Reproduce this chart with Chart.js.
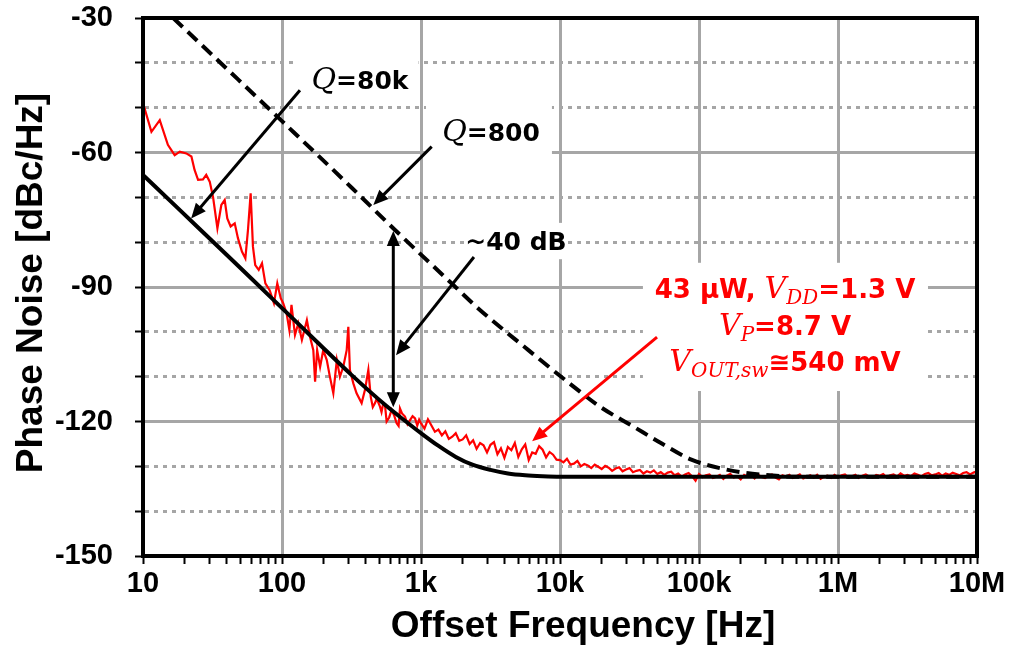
<!DOCTYPE html>
<html>
<head>
<meta charset="utf-8">
<script src="https://cdn.jsdelivr.net/npm/chart.js@4"></script>
<style>
  html, body { margin: 0; padding: 0; background: #fff; }
  canvas { display: block; }
</style>
</head>
<body>
<canvas id="pnChart" width="1010" height="647"></canvas>
<script>
// ==============================
// Phase noise vs offset frequency
// measured (red) + Leeson fits for Q=80k (solid) and Q=800 (dashed)
// ==============================

// ---------- axes ----------
const xDecades      = [10, 100, 1e3, 1e4, 1e5, 1e6, 1e7];
const xDecadeLabels = ["10", "100", "1k", "10k", "100k", "1M", "10M"];
const yLabelledTicks = [-150, -120, -90, -60, -30];

// ---------- measured spectrum ----------
const measFreq = [
  // 10 Hz .. 1 kHz
  10, 11.5, 13.2, 15.1, 16.9, 18.4, 20.5, 22.3, 23.5, 24.9,
  27.0, 28.5, 30.2, 31.9, 34.3, 36.6, 38.7, 40.4, 42.7, 45.7,
  48.2, 51.5, 54.5, 56.9, 59.5, 61.8, 64.2, 68.0, 71.8, 75.9,
  81.5, 87.5, 92.5, 97.9, 102, 108, 113, 117, 124, 131,
  139, 151, 159, 168, 173, 179, 188, 198, 210, 221,
  234, 248, 261, 276, 292, 300, 308, 326, 344, 374,
  395, 418, 435, 450, 467, 480, 507, 520, 536, 550,
  566, 590, 615, 640, 668, 690, 706, 730, 767, 800,
  834, 870, 906, 940, 970,
  // 1 kHz .. 10 kHz
  1000, 1059, 1122, 1189, 1259, 1334, 1413, 1496, 1585, 1679,
  1778, 1884, 1995, 2113, 2239, 2371, 2512, 2661, 2818, 2985,
  3162, 3350, 3548, 3758, 3981, 4217, 4467, 4732, 5012, 5309,
  5623, 5957, 6310, 6683, 7079, 7499, 7943, 8414, 8913, 9441,
  // 10 kHz .. 100 kHz
  1.000e4, 1.059e4, 1.122e4, 1.189e4, 1.259e4, 1.334e4, 1.413e4, 1.496e4, 1.585e4, 1.679e4,
  1.778e4, 1.884e4, 1.995e4, 2.113e4, 2.239e4, 2.371e4, 2.512e4, 2.661e4, 2.818e4, 2.985e4,
  3.162e4, 3.350e4, 3.548e4, 3.758e4, 3.981e4, 4.217e4, 4.467e4, 4.732e4, 5.012e4, 5.309e4,
  5.623e4, 5.957e4, 6.310e4, 6.683e4, 7.079e4, 7.499e4, 7.943e4, 8.414e4, 8.913e4, 9.441e4,
  // 100 kHz .. 1 MHz
  1.000e5, 1.059e5, 1.122e5, 1.189e5, 1.259e5, 1.334e5, 1.413e5, 1.496e5, 1.585e5, 1.679e5,
  1.778e5, 1.884e5, 1.995e5, 2.113e5, 2.239e5, 2.371e5, 2.512e5, 2.661e5, 2.818e5, 2.985e5,
  3.162e5, 3.350e5, 3.548e5, 3.758e5, 3.981e5, 4.217e5, 4.467e5, 4.732e5, 5.012e5, 5.309e5,
  5.623e5, 5.957e5, 6.310e5, 6.683e5, 7.079e5, 7.499e5, 7.943e5, 8.414e5, 8.913e5, 9.441e5,
  // 1 MHz .. 10 MHz
  1.000e6, 1.059e6, 1.122e6, 1.189e6, 1.259e6, 1.334e6, 1.413e6, 1.496e6, 1.585e6, 1.679e6,
  1.778e6, 1.884e6, 1.995e6, 2.113e6, 2.239e6, 2.371e6, 2.512e6, 2.661e6, 2.818e6, 2.985e6,
  3.162e6, 3.350e6, 3.548e6, 3.758e6, 3.981e6, 4.217e6, 4.467e6, 4.732e6, 5.012e6, 5.309e6,
  5.623e6, 5.957e6, 6.310e6, 6.683e6, 7.079e6, 7.499e6, 7.943e6, 8.414e6, 8.913e6, 9.441e6,
  1.000e7
];
const measNoise = [
  // 10 Hz .. 1 kHz
  -49.0, -55.4, -52.8, -58.3, -60.6, -59.8, -60.2, -60.9, -63.9, -66.1,
  -66.0, -65.0, -66.5, -69.9, -76.9, -71.7, -70.6, -74.7, -76.5, -75.8,
  -79.1, -82.1, -83.6, -77.3, -69.1, -81.0, -85.1, -86.2, -84.7, -89.2,
  -90.7, -93.6, -89.2, -92.5, -93.6, -95.9, -99.6, -94.0, -100.7, -98.1,
  -101.8, -97.4, -101.1, -104.1, -111.1, -104.1, -107.8, -104.1, -106.3, -110.0,
  -113.7, -106.3, -110.0, -107.8, -104.1, -98.9, -108.5, -111.5, -113.7, -115.9,
  -113.0, -108.5, -114.5, -116.8, -115.9, -114.9, -116.7, -117.9, -115.9, -116.2,
  -120.0, -119.1, -117.4, -118.6, -120.4, -121.0, -117.1, -118.2, -118.9, -120.6,
  -119.7, -118.8, -119.3, -120.9, -119.6,
  // 1 kHz .. 10 kHz
  -120.4, -121.6, -119.5, -120.9, -122.3, -121.8, -123.1, -122.2, -123.9, -123.4,
  -122.6, -124.3, -124.0, -123.1, -125.0, -124.2, -126.1, -124.8, -125.3, -126.9,
  -125.2, -124.6, -127.3, -126.0, -128.1, -125.7, -126.4, -124.8, -127.9, -126.2,
  -125.1, -128.6, -126.9, -127.2, -125.5, -126.3, -128.0, -126.8, -127.4, -128.5,
  // 10 kHz .. 100 kHz
  -128.6, -129.1, -128.3, -129.6, -129.4, -128.8, -130.0, -129.5, -129.8, -130.4,
  -129.6, -130.1, -130.6, -129.9, -130.3, -131.0, -130.5, -130.2, -131.1, -130.7,
  -130.4, -131.3, -131.0, -130.8, -131.6, -131.1, -131.4, -130.9, -131.7, -131.3,
  -131.9, -131.4, -131.2, -132.0, -131.6, -132.3, -131.8, -131.5, -132.2, -133.2,
  // 100 kHz .. 1 MHz
  -131.7, -132.4, -132.0, -131.8, -132.6, -132.3, -131.9, -132.8, -132.1, -131.7,
  -132.5, -132.2, -132.9, -131.9, -132.3, -132.0, -132.7, -131.8, -132.4, -132.6,
  -132.1, -131.8, -132.5, -132.9, -132.0, -132.3, -131.9, -132.6, -132.2, -131.8,
  -132.7, -132.4, -132.0, -132.5, -131.9, -132.8, -132.3, -132.1, -132.6, -131.9,
  // 1 MHz .. 10 MHz
  -132.4, -132.0, -131.8, -132.5, -132.2, -131.9, -132.6, -132.1, -131.8, -132.3,
  -132.5, -131.9, -132.1, -131.7, -132.4, -132.0, -131.8, -132.3, -131.6, -132.1,
  -131.9, -132.2, -131.6, -131.9, -132.2, -131.7, -131.5, -132.0, -131.8, -131.5,
  -132.1, -131.6, -131.9, -131.4, -131.7, -132.0, -131.5, -131.3, -131.8, -131.4,
  -131.1
];

// ---------- Leeson model, Q = 80k (solid) ----------
const q80kFreq  = [10, 17.8, 31.6, 56.2, 100, 178, 316, 562, 750, 1000,
                   1330, 1780, 2370, 3160, 4220, 5620, 7500, 10000, 1e5, 1e6, 1e7];
const q80kNoise = [-65.0, -72.4, -79.8, -87.2, -94.7, -102.2, -109.6, -116.5, -119.6, -122.6,
                   -125.4, -127.9, -129.7, -130.8, -131.6, -132.0, -132.2, -132.3, -132.3, -132.3, -132.3];

// ---------- Leeson model, Q = 800 (dashed) ----------
const q800Freq  = [16.5, 31.6, 100, 316, 631, 1585, 2630, 5620, 11700, 19400,
                   33600, 53200, 88100, 156000, 292000, 500000, 1e7];
const q800Noise = [-30.0, -38.3, -53.0, -67.8, -76.9, -88.6, -95.0, -103.5, -111.5, -116.7,
                   -121.1, -124.8, -128.5, -130.7, -131.9, -132.3, -132.3];

// ---------- annotations (anchored in data coords: [Hz, dBc/Hz]) ----------
const RED = "#ff0000";
const F_BOLD = 'bold 25px "DejaVu Sans"';
const F_BOLD_R = 'bold 26px "DejaVu Sans"';
const F_ITAL = 'italic 30px "DejaVu Serif"';
const F_SUB  = 'italic 20px "DejaVu Serif"';

// white boxes that mask the grid behind the labels: [f1, f2, dbTop, dbBottom]
const labelBoxes = [
  [125, 960, -38.5, -48.8],
  [1086, 8750, -49.4, -61.0],
  [2040, 11000, -75.7, -83.8],
  [39500, 4.44e6, -84.6, -113.2]
];

const labels = [
  { at: [364, -43.8],    color: "#000", runs: [{ t: "Q", f: F_ITAL }, { t: "=80k", f: F_BOLD }] },
  { at: [3190, -55.4],   color: "#000", runs: [{ t: "Q", f: F_ITAL }, { t: "=800", f: F_BOLD }] },
  { at: [4820, -79.7],   color: "#000", runs: [{ t: "~40 dB", f: F_BOLD }] },
  { at: [416000, -90.4], color: RED, runs: [{ t: "43 \u00b5W, ", f: F_BOLD_R }, { t: "V", f: F_ITAL },
                                            { t: "DD", f: F_SUB, dy: 6 }, { t: "=1.3 V", f: F_BOLD_R }] },
  { at: [416000, -98.7], color: RED, runs: [{ t: "V", f: F_ITAL }, { t: "P", f: F_SUB, dy: 6 },
                                            { t: "=8.7 V", f: F_BOLD_R }] },
  { at: [416000, -106.7], color: RED, runs: [{ t: "V", f: F_ITAL }, { t: "OUT,sw", f: F_SUB, dy: 6 },
                                             { t: "\u2245540 mV", f: F_BOLD_R }] }
];

// arrows: from -> to (head at "to"), both = head at each end
const arrows = [
  { from: [134.6, -46.1], to: [22.2, -74.7],  color: "#000" },
  { from: [1194, -58.7],  to: [454, -71.7],   color: "#000" },
  { from: [632, -77.5],   to: [632, -116.8],  color: "#000", both: true },
  { from: [2404, -83.3],  to: [661, -105.2],  color: "#000" },
  { from: [49900, -101.2], to: [6300, -124.4], color: RED }
];

// ---------- helpers ----------
const zip = (xs, ys) => xs.map((x, i) => ({ x, y: ys[i] }));

function drawHead(ctx, x, y, ang) {
  const len = 15, half = 6.5;
  ctx.beginPath();
  ctx.moveTo(x, y);
  ctx.lineTo(x - len * Math.cos(ang) + half * Math.sin(ang), y - len * Math.sin(ang) - half * Math.cos(ang));
  ctx.lineTo(x - len * Math.cos(ang) - half * Math.sin(ang), y - len * Math.sin(ang) + half * Math.cos(ang));
  ctx.closePath();
  ctx.fill();
}

function drawArrow(ctx, x1, y1, x2, y2, color, both) {
  const ang = Math.atan2(y2 - y1, x2 - x1);
  const cut = 10;
  ctx.save();
  ctx.strokeStyle = color; ctx.fillStyle = color; ctx.lineWidth = 3;
  ctx.beginPath();
  ctx.moveTo(both ? x1 + cut * Math.cos(ang) : x1, both ? y1 + cut * Math.sin(ang) : y1);
  ctx.lineTo(x2 - cut * Math.cos(ang), y2 - cut * Math.sin(ang));
  ctx.stroke();
  drawHead(ctx, x2, y2, ang);
  if (both) drawHead(ctx, x1, y1, ang + Math.PI);
  ctx.restore();
}

function drawRuns(ctx, runs, cx, baseline, color) {
  let w = 0;
  runs.forEach(r => { ctx.font = r.f; r.w = ctx.measureText(r.t).width; w += r.w; });
  let x = cx - w / 2;
  ctx.fillStyle = color;
  ctx.textAlign = "left";
  ctx.textBaseline = "alphabetic";
  runs.forEach(r => { ctx.font = r.f; ctx.fillText(r.t, x, baseline + (r.dy || 0)); x += r.w; });
}

// ---------- plugin: boxes, frame, arrows, labels, axis titles ----------
const annotate = {
  id: "annotate",
  beforeDatasetsDraw(chart) {
    const { ctx, scales: { x, y } } = chart;
    ctx.save();
    ctx.fillStyle = "#fff";
    labelBoxes.forEach(([f1, f2, d1, d2]) => {
      const px1 = x.getPixelForValue(f1), px2 = x.getPixelForValue(f2);
      const py1 = y.getPixelForValue(d1), py2 = y.getPixelForValue(d2);
      ctx.fillRect(px1, py1, px2 - px1, py2 - py1);
    });
    ctx.restore();
  },
  afterDatasetsDraw(chart) {
    const { ctx, chartArea: a, scales: { x, y } } = chart;
    ctx.save();
    // full black frame
    ctx.strokeStyle = "#000";
    ctx.lineWidth = 4;
    ctx.strokeRect(a.left, a.top, a.right - a.left, a.bottom - a.top);

    arrows.forEach(ar => {
      drawArrow(ctx,
        x.getPixelForValue(ar.from[0]), y.getPixelForValue(ar.from[1]),
        x.getPixelForValue(ar.to[0]),   y.getPixelForValue(ar.to[1]),
        ar.color, ar.both);
    });

    labels.forEach(l => {
      drawRuns(ctx, l.runs, x.getPixelForValue(l.at[0]), y.getPixelForValue(l.at[1]) + 9, l.color);
    });

    // axis titles
    ctx.fillStyle = "#000";
    ctx.font = 'bold 37px "Liberation Sans"';
    ctx.textAlign = "center";
    ctx.textBaseline = "alphabetic";
    ctx.fillText("Offset Frequency [Hz]", (a.left + a.right) / 2 + 23, a.bottom + 81);
    ctx.translate(a.left - 101, (a.top + a.bottom) / 2 - 4);
    ctx.rotate(-Math.PI / 2);
    ctx.fillText("Phase Noise [dBc/Hz]", 0, 0);
    ctx.restore();
  }
};

// ---------- chart ----------
const ctx = document.getElementById("pnChart").getContext("2d");
const GRID = "#a6a6a6";
const tickFont = { family: "Liberation Sans", size: 29, weight: "bold" };

new Chart(ctx, {
  type: "line",
  data: {
    datasets: [
      { label: "Measured", data: zip(measFreq, measNoise), borderColor: RED, borderWidth: 2.2,
        pointRadius: 0, tension: 0, order: 3 },
      { label: "Q=800", data: zip(q800Freq, q800Noise), borderColor: "#000", borderWidth: 4,
        borderDash: [13, 7], pointRadius: 0, cubicInterpolationMode: "monotone", order: 2 },
      { label: "Q=80k", data: zip(q80kFreq, q80kNoise), borderColor: "#000", borderWidth: 4,
        pointRadius: 0, cubicInterpolationMode: "monotone", order: 1 }
    ]
  },
  options: {
    responsive: false,
    animation: false,
    devicePixelRatio: 1,
    layout: { padding: { top: 18, right: 33, bottom: 0, left: 0 } },
    plugins: { legend: { display: false }, tooltip: { enabled: false } },
    scales: {
      x: {
        type: "logarithmic",
        min: 10, max: 1e7,
        afterBuildTicks: (scale) => {
          const t = [];
          xDecades.slice(0, -1).forEach(d => { for (let m = 1; m <= 9; m++) t.push(d * m); });
          t.push(xDecades[xDecades.length - 1]);
          scale.ticks = t.map(v => ({ value: v, major: xDecades.includes(v) }));
        },
        afterFit: (scale) => {
          scale.height = 91;
          scale.paddingLeft = 0; scale.paddingRight = 0;
        },
        ticks: {
          autoSkip: false, maxRotation: 0, minRotation: 0, padding: 3,
          color: "#000", font: tickFont,
          callback: (v) => { const i = xDecades.indexOf(v); return i >= 0 ? xDecadeLabels[i] : ""; }
        },
        grid: {
          color: (c) => (c.tick && xDecades.includes(c.tick.value)) ? GRID : "rgba(0,0,0,0)",
          lineWidth: 3,
          tickColor: "#000", tickLength: 8, tickWidth: 2
        },
        border: { display: true, color: "#000", width: 4 }
      },
      y: {
        min: -150, max: -30,
        afterFit: (scale) => {
          scale.width = 143;
          scale.paddingTop = 0; scale.paddingBottom = 0;
        },
        ticks: {
          stepSize: 10, padding: 22, color: "#000", font: tickFont,
          callback: (v) => yLabelledTicks.includes(v) ? String(v) : ""
        },
        grid: { color: GRID, lineWidth: 3, tickColor: "#000", tickLength: 8, tickWidth: 2 },
        border: {
          display: true, color: "#000", width: 4,
          dash: (c) => (c.tick && !yLabelledTicks.includes(c.tick.value)) ? [4, 5] : []
        }
      }
    }
  },
  plugins: [annotate]
});
</script>
</body>
</html>
